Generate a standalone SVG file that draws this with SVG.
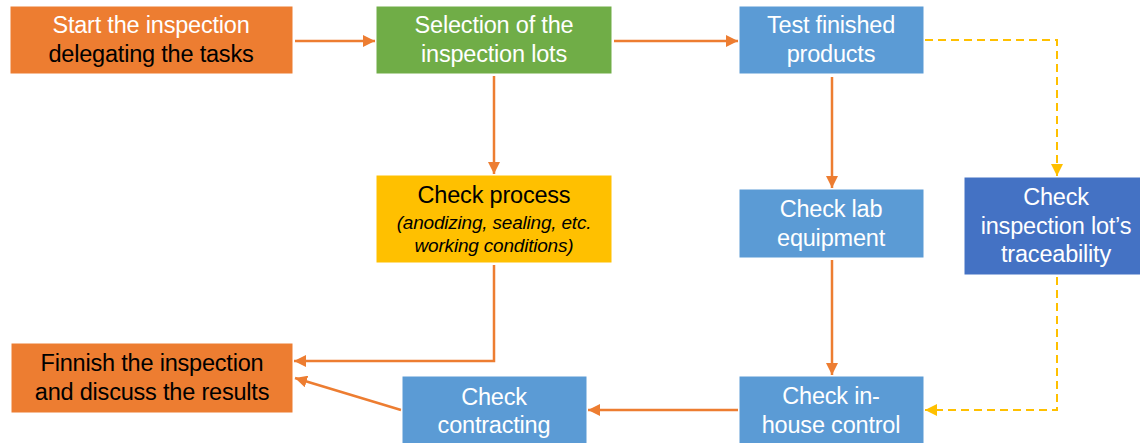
<svg xmlns="http://www.w3.org/2000/svg" width="1140" height="443" viewBox="0 0 1140 443">
<defs>
<style>
.box{stroke:#ffffff;stroke-width:1}
.orange{fill:#ED7D31}
.green{fill:#70AD47}
.lblue{fill:#5B9BD5}
.yellow{fill:#FFC000}
.dblue{fill:#4472C4}
text{font-family:"Liberation Sans",Arial,sans-serif;font-size:23.5px;text-anchor:middle;letter-spacing:-0.2px}
.w{fill:#ffffff}
.k{fill:#000000}
.it{font-style:italic;font-size:19px}
.solid{fill:none;stroke:#ED7D31;stroke-width:2.5;marker-end:url(#ao)}
.dash{fill:none;stroke:#FFC000;stroke-width:2;stroke-dasharray:8 5;marker-end:url(#ay)}
</style>
<marker id="ao" markerUnits="userSpaceOnUse" markerWidth="12" markerHeight="12" refX="12" refY="6" orient="auto" viewBox="0 0 12 12">
<path d="M0,0 L12,6 L0,12 z" fill="#ED7D31"/>
</marker>
<marker id="ay" markerUnits="userSpaceOnUse" markerWidth="12" markerHeight="12" refX="12" refY="6" orient="auto" viewBox="0 0 12 12">
<path d="M0,0 L12,6 L0,12 z" fill="#FFC000"/>
</marker>
</defs>
<rect width="1140" height="443" fill="#ffffff"/>
<g id="connectors">
<path class="solid" d="M295,41 H375"/>
<path class="solid" d="M614,41 H738"/>
<path class="solid" d="M494,76 V174"/>
<path class="solid" d="M832,77 V188"/>
<path class="dash" d="M925,40 H1057 V176"/>
<path class="solid" d="M832,260 V375"/>
<path class="dash" d="M1057,277 V410 H925"/>
<path class="solid" d="M738,410 H588"/>
<path class="solid" d="M401,410 L295,378"/>
<path class="solid" d="M494,265 V361 H294"/>
</g>
<g id="start">
<rect class="box orange" x="10" y="6" width="283" height="68"/>
<text class="w" x="151" y="33">Start the inspection</text>
<text class="k" x="151" y="62">delegating the tasks</text>
</g>
<g id="selection">
<rect class="box green" x="376" y="6" width="236" height="68"/>
<text class="w" x="494" y="33">Selection of the</text>
<text class="w" x="494" y="62">inspection lots</text>
</g>
<g id="test">
<rect class="box lblue" x="739" y="6" width="185" height="68"/>
<text class="w" x="831" y="33">Test finished</text>
<text class="w" x="831" y="62">products</text>
</g>
<g id="process">
<rect class="box yellow" x="376" y="175" width="236" height="88"/>
<text class="k" x="494" y="203">Check process</text>
<text class="k it" x="494" y="229">(anodizing, sealing, etc.</text>
<text class="k it" x="494" y="252">working conditions)</text>
</g>
<g id="lab">
<rect class="box lblue" x="739" y="189" width="185" height="69"/>
<text class="w" x="831" y="217">Check lab</text>
<text class="w" x="831" y="246">equipment</text>
</g>
<g id="traceability">
<rect class="box dblue" x="964" y="177" width="177" height="98"/>
<text class="w" x="1056" y="205">Check</text>
<text class="w" x="1056" y="234">inspection lot’s</text>
<text class="w" x="1056" y="262">traceability</text>
</g>
<g id="finnish">
<rect class="box orange" x="11" y="343" width="282" height="70"/>
<text class="k" x="152" y="371">Finnish the inspection</text>
<text class="k" x="152" y="400">and discuss the results</text>
</g>
<g id="contracting">
<rect class="box lblue" x="402" y="376" width="185" height="70"/>
<text class="w" x="494" y="405">Check</text>
<text class="w" x="494" y="433">contracting</text>
</g>
<g id="inhouse">
<rect class="box lblue" x="739" y="376" width="185" height="70"/>
<text class="w" x="831" y="404">Check in-</text>
<text class="w" x="831" y="433">house control</text>
</g>
</svg>
